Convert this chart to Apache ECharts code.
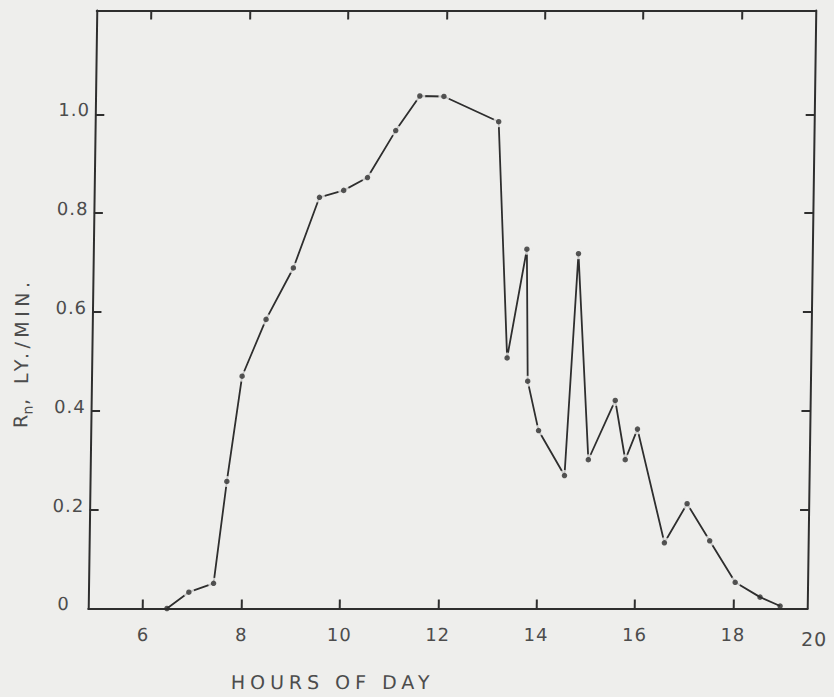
<!DOCTYPE html>
<html><head><meta charset="utf-8">
<style>
html,body{margin:0;padding:0;background:#eeeeec;overflow:hidden;}
#c{width:834px;height:697px;transform:skewX(-0.82deg);transform-origin:417px 309.5px;}
</style>
<script src="https://cdn.jsdelivr.net/npm/echarts@6/dist/echarts.min.js"></script>
</head><body><div id="c"></div>
<script>
// Data (hour of day, net radiation Rn in ly/min)
const hours = [6.49, 6.93, 7.43, 7.67, 7.95, 8.42, 8.96, 9.47, 9.96, 10.44, 11.0, 11.48, 11.97, 13.09, 13.33, 13.70, 13.755, 13.99, 14.53, 14.75, 15.01, 15.54, 15.76, 16.0, 16.58, 17.03, 17.50, 18.03, 18.54, 18.95];
const rn = [0.0, 0.033, 0.051, 0.257, 0.470, 0.585, 0.689, 0.832, 0.846, 0.872, 0.967, 1.037, 1.036, 0.985, 0.507, 0.727, 0.460, 0.360, 0.269, 0.718, 0.301, 0.421, 0.301, 0.363, 0.133, 0.212, 0.137, 0.053, 0.023, 0.005];

const xTickValues = [6, 8, 10, 12, 14, 16, 18];
const xLabelValues = [6, 8, 10, 12, 14, 16, 18, 19.51];
const xLabelTexts = ['6', '8', '10', '12', '14', '16', '18', '20'];
const yTickValues = [0, 0.2, 0.4, 0.6, 0.8, 1.0];
const yLabelTexts = ['0', '0.2', '0.4', '0.6', '0.8', '1.0'];
const xTitle = 'HOURS OF DAY';
const yTitleMain = 'R', yTitleSub = 'n', yTitleRest = ', LY./MIN.';

const X_MIN = 4.89, X_MAX = 19.51, Y_MIN = 0, Y_MAX = 1.21;
const INK = '#2e2e2e', TXT = '#4c4c4c', BG = '#eeeeec';
const FONT = '"DejaVu Sans", sans-serif';

const pts = hours.map((h, i) => [h, rn[i]]);

const axisLine = { show: true, onZero: false, lineStyle: { color: INK, width: 2 } };
const tickStyle = { show: true, inside: true, length: 9, lineStyle: { color: INK, width: 2 } };

const chart = echarts.init(document.getElementById('c'), null, { renderer: 'svg' });
chart.setOption({
  backgroundColor: 'transparent',
  animation: false,
  grid: { left: 92.5, right: 20, top: 10.5, bottom: 88.5, containLabel: false },
  xAxis: [
    {
      type: 'value', min: X_MIN, max: X_MAX, position: 'bottom', z: 10,
      axisLine, splitLine: { show: false },
      axisTick: Object.assign({}, tickStyle, { customValues: xTickValues }),
      axisLabel: {
        customValues: xLabelValues, margin: 17, color: TXT, fontSize: 18, fontFamily: FONT,
        showMinLabel: true, showMaxLabel: true,
        rich: { r: { fontSize: 19, fontFamily: FONT, color: TXT, padding: [4, 0, 0, 14] } },
        formatter: v => {
          const i = xLabelValues.findIndex(t => Math.abs(t - v) < 1e-6);
          if (i < 0) return '';
          return i === xLabelValues.length - 1 ? '{r|' + xLabelTexts[i] + '}' : xLabelTexts[i];
        }
      }
    },
    {
      type: 'value', min: X_MIN, max: X_MAX, position: 'top', z: 10,
      axisLine, splitLine: { show: false },
      axisTick: Object.assign({}, tickStyle, { customValues: xTickValues }),
      axisLabel: { show: false }
    }
  ],
  yAxis: [
    {
      type: 'value', min: Y_MIN, max: Y_MAX, position: 'left', z: 10,
      axisLine, splitLine: { show: false },
      axisTick: Object.assign({}, tickStyle, { customValues: yTickValues.filter(v => v > 0) }),
      axisLabel: {
        customValues: yTickValues, margin: 37, align: 'left', verticalAlign: 'middle',
        padding: [0, 0, 9, 0],
        color: TXT, fontSize: 18, fontFamily: FONT,
        rich: { z: { fontSize: 18, fontFamily: FONT, color: TXT, padding: [0, 0, 0, 6] } },
        formatter: v => {
          const i = yTickValues.findIndex(t => Math.abs(t - v) < 1e-6);
          if (i < 0) return '';
          return i === 0 ? '{z|' + yLabelTexts[i] + '}' : yLabelTexts[i];
        }
      }
    },
    {
      type: 'value', min: Y_MIN, max: Y_MAX, position: 'right', z: 10,
      axisLine, splitLine: { show: false },
      axisTick: Object.assign({}, tickStyle, { customValues: yTickValues.filter(v => v > 0) }),
      axisLabel: { show: false }
    }
  ],
  series: [
    {
      type: 'line', data: pts, showSymbol: false, z: 2,
      lineStyle: { color: INK, width: 1.8 }
    },
    {
      type: 'scatter', data: pts.filter(p => p[1] > 0.03), symbol: 'circle', symbolSize: 11, z: 3,
      itemStyle: { color: BG }, silent: true
    },
    {
      type: 'scatter', data: pts, symbol: 'circle', symbolSize: 5.5, z: 4,
      itemStyle: { color: INK }, silent: true
    }
  ],
  graphic: [
    {
      type: 'text', x: 338, y: 682,
      style: { text: xTitle, fill: TXT, font: '19px ' + FONT, align: 'center', verticalAlign: 'middle' }
    },
    {
      type: 'group', x: 22, y: 350, rotation: Math.PI / 2,
      children: [
        { type: 'text', x: -78, y: 0, style: { text: yTitleMain, fill: TXT, font: '19px ' + FONT, align: 'left', verticalAlign: 'middle' } },
        { type: 'text', x: -64.5, y: 7, style: { text: yTitleSub, fill: TXT, font: '14px ' + FONT, align: 'left', verticalAlign: 'middle' } },
        { type: 'text', x: -55, y: 0, style: { text: yTitleRest, fill: TXT, font: '19px ' + FONT, align: 'left', verticalAlign: 'middle' } }
      ]
    }
  ]
});

// Widen the letter spacing like the hand lettering of the original
function spaceText() {
  document.querySelectorAll('#c text').forEach(t => {
    const s = t.textContent;
    if (s === xTitle) t.style.letterSpacing = '5px';
    else if (s === yTitleRest) t.style.letterSpacing = '4.5px';
    else if (s.length > 1) t.style.letterSpacing = '1px';
  });
}
spaceText();
chart.on('finished', spaceText);
</script>
</body></html>
